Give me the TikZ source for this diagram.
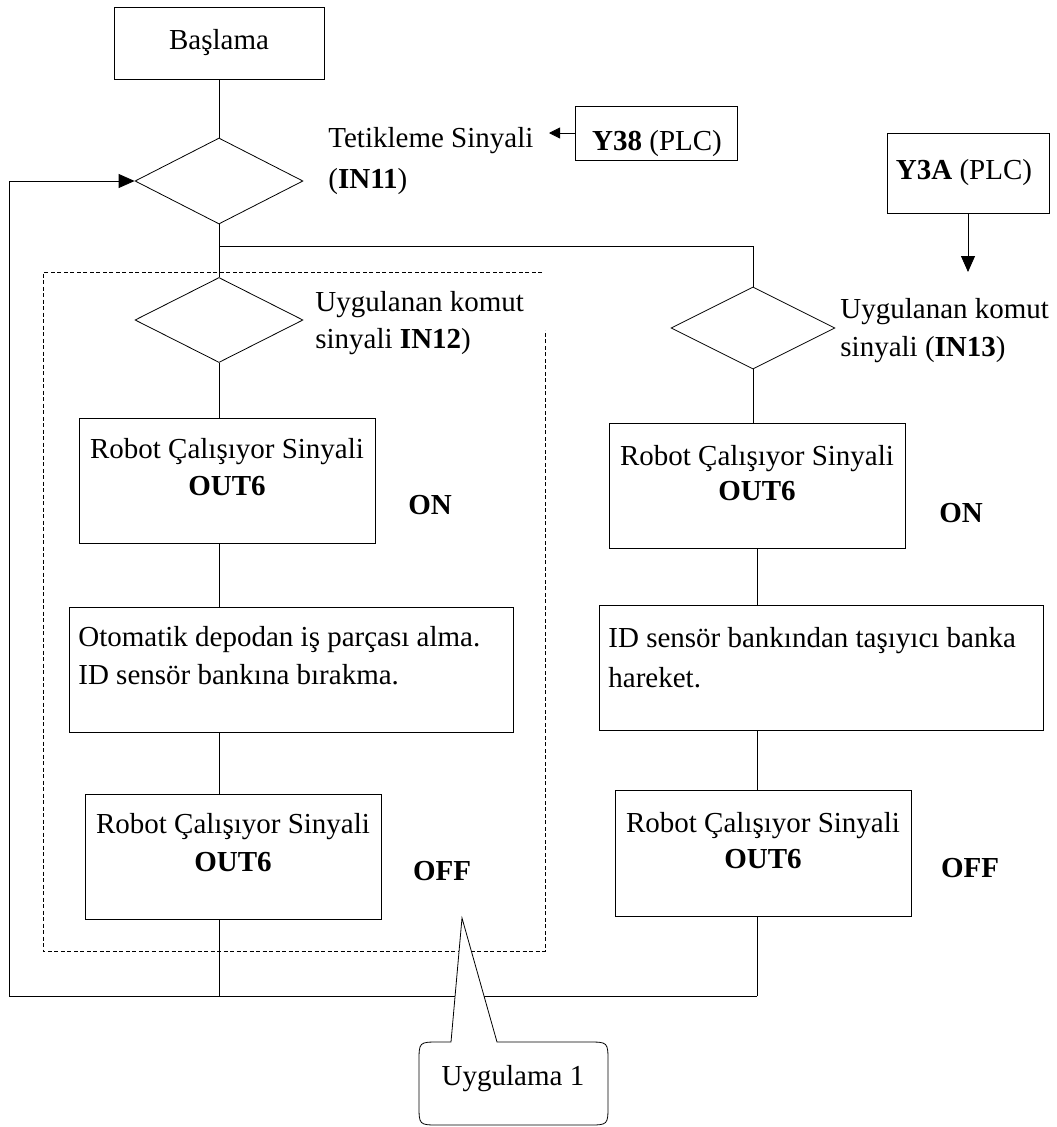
\documentclass[tikz,border=0pt]{standalone}
\usepackage{fontspec}
\setmainfont{Liberation Serif}
\usetikzlibrary{shapes.geometric,arrows.meta}

\begin{document}
\begin{tikzpicture}[x=1pt,y=-1pt,
  line width=0.8pt,
  lbl/.style={inner sep=0pt,font=\fontsize{29}{36}\selectfont},
  box/.style={draw,rectangle,inner sep=0pt,font=\fontsize{29}{36}\selectfont},
  dec/.style={draw,diamond,inner sep=0pt},
  frame/.style={line width=0.7pt,dash pattern=on 4pt off 2.5pt},
  bigtip/.style={-{Triangle[length=16pt,width=14pt]}},
  smalltip/.style={-{Triangle[length=11pt,width=11pt]}}]

\useasboundingbox (0,0) rectangle (1057,1127);

% column guides
\coordinate (colL) at (219,0);
\coordinate (colR) at (757,0);

% start and first decision
\node[box,minimum width=210,minimum height=72] (start) at (219,43) {Başlama};
\node[dec,minimum width=168,minimum height=86] (d1) at (219,181) {};
\node[lbl,anchor=base west] (trig) at (328,147) {Tetikleme Sinyali};
\node[lbl,anchor=base west] (in11) at (328,188) {(\textbf{IN11})};

% PLC inputs
\node[box,minimum width=162,minimum height=54] (y38) at (656,133) {};
\node[lbl,anchor=base] (y38t) at (657,150) {\textbf{Y38} (PLC)};
\coordinate (trigend) at (549,133);
\node[box,minimum width=162,minimum height=80] (y3a) at (968,173) {};
\node[lbl,anchor=base] (y3at) at (964,179) {\textbf{Y3A} (PLC)};
\coordinate (y3aend) at (968,272);

% left branch
\node[dec,minimum width=168,minimum height=85] (d2) at (219,320) {};
\node[lbl,anchor=base west] (c12a) at (315,311) {Uygulanan komut};
\node[lbl,anchor=base west] (c12b) at (315,348) {sinyali \textbf{IN12})};

\node[box,minimum width=296,minimum height=125] (r1) at (227,480.5) {};
\node[lbl,anchor=base] (r1a) at (227,458) {Robot Çalışıyor Sinyali};
\node[lbl,anchor=base] (r1b) at (227,495) {\textbf{OUT6}};
\node[lbl,anchor=base] (on1) at (430,514) {\textbf{ON}};

\node[box,minimum width=444,minimum height=125] (ba) at (291,670) {};
\node[lbl,anchor=base west] (baa) at (78,646) {Otomatik depodan iş parçası alma.};
\node[lbl,anchor=base west] (bab) at (78,684) {ID sensör bankına bırakma.};

\node[box,minimum width=296,minimum height=125] (r2) at (233,856.5) {};
\node[lbl,anchor=base] (r2a) at (233,833) {Robot Çalışıyor Sinyali};
\node[lbl,anchor=base] (r2b) at (233,871) {\textbf{OUT6}};
\node[lbl,anchor=base] (off1) at (442,880) {\textbf{OFF}};

% right branch
\node[dec,minimum width=164,minimum height=82] (d3) at (753,328) {};
\node[lbl,anchor=base west] (c13a) at (840,318) {Uygulanan komut};
\node[lbl,anchor=base west] (c13b) at (840,356) {sinyali (\textbf{IN13})};

\node[box,minimum width=296,minimum height=125] (r3) at (757,485.5) {};
\node[lbl,anchor=base] (r3a) at (757,465) {Robot Çalışıyor Sinyali};
\node[lbl,anchor=base] (r3b) at (757,500) {\textbf{OUT6}};
\node[lbl,anchor=base] (on2) at (961,522) {\textbf{ON}};

\node[box,minimum width=444,minimum height=125] (bb) at (821,667.5) {};
\node[lbl,anchor=base west] (bba) at (608,647) {ID sensör bankından taşıyıcı banka};
\node[lbl,anchor=base west] (bbb) at (608,687) {hareket.};

\node[box,minimum width=296,minimum height=126] (r4) at (763,853) {};
\node[lbl,anchor=base] (r4a) at (763,832) {Robot Çalışıyor Sinyali};
\node[lbl,anchor=base] (r4b) at (763,868) {\textbf{OUT6}};
\node[lbl,anchor=base] (off2) at (970,877) {\textbf{OFF}};

% connectors
\draw (start.south) -- (d1.north);
\draw[smalltip] (y38.west) -- (trigend);
\draw[bigtip] (y3a.south -| y3aend) -- (y3aend);
\draw (d1.south) -- (d2.north);
\coordinate (br) at (219,246);
\draw (br) -| (d3.north);

\draw (d2.south) -- (d2.south |- r1.north);
\draw (colL |- r1.south) -- (colL |- ba.north);
\draw (colL |- ba.south) -- (colL |- r2.north);

\draw (d3.south) -- (d3.south |- r3.north);
\draw (colR |- r3.south) -- (colR |- bb.north);
\draw (colR |- bb.south) -- (colR |- r4.north);

% return path to the first decision
\coordinate (loopL) at (9,996);
\coordinate (loopR) at (757,996);
\draw[bigtip] (loopL) |- (d1.west);
\draw (loopL) -- (loopR);
\draw (colL |- r2.south) -- (colL |- loopL);
\draw (colR |- r4.south) -- (loopR);

% group frame of the first application
\draw[frame] (542,272) -- (43,272) -- (43,951) -- (545,951) -- (545,330);

% callout with its pointer
\draw[fill=white] (451,1042) -- (462,918) -- (497,1042) -- (588,1042)
  .. controls (608,1042) .. (608,1062) -- (608,1105)
  .. controls (608,1125) .. (588,1125) -- (439,1125)
  .. controls (419,1125) .. (419,1105) -- (419,1062)
  .. controls (419,1042) .. (439,1042) -- cycle;
\node[lbl,anchor=base] (callt) at (513,1085) {Uygulama 1};

\end{tikzpicture}
\end{document}
